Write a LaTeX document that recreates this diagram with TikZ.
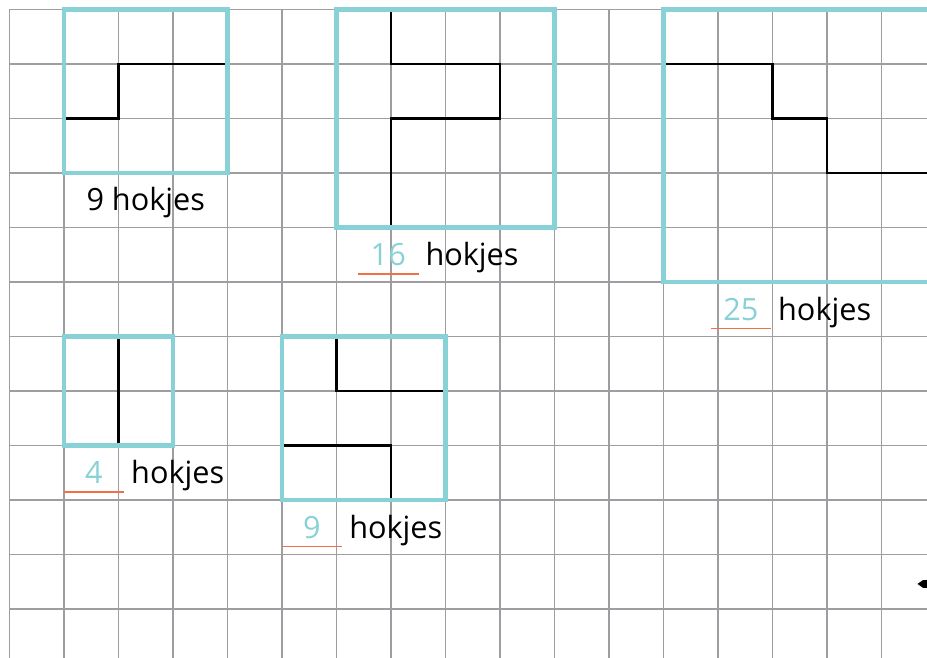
\documentclass[tikz,border=0pt]{standalone}
\usepackage{fontspec}
\setmainfont{Open Sans}
\usepackage{xcolor}
\usetikzlibrary{positioning}

\definecolor{frameteal}{RGB}{136,209,214}
\definecolor{gridgray}{RGB}{158,158,162}
\definecolor{lineorange}{RGB}{242,112,72}

\tikzset{
  gridline/.style={draw=gridgray, line width=0.75pt},
  frame/.style={draw=frameteal, line width=2.4pt},
  route/.style={draw=black, line width=1.4pt},
  answerline/.style={draw=lineorange, line width=0.8pt},
  countlabel/.style={inner sep=0pt, font=\fontsize{16}{19}\selectfont},
  blank/.style={
    text=frameteal,
    inner sep=0pt,
    minimum width=1.1cm,
    minimum height=0.7cm,
    font=\fontsize{16}{19}\selectfont
  }
}

\begin{document}
\begin{tikzpicture}[y=-1cm]
  \useasboundingbox (-0.174,-0.174) rectangle (16.835,11.881);
  \clip (-0.174,-0.174) rectangle (16.835,11.881);

  % ruitjespapier
  \draw[gridline] (0,0) grid (16.9,11.9);
  \draw[black, line width=0.6pt] (15,0.03) -- (16,0.03);

  % routes
  \draw[route] (1,2) -- (2,2) -- (2,1) -- (4,1);
  \draw[route] (7,0) -- (7,1) -- (9,1) -- (9,2) -- (7,2) -- (7,4);
  \draw[route] (12,1) -- (14,1) -- (14,2) -- (15,2) -- (15,3) -- (17,3);
  \draw[route] (2,6) -- (2,8);
  \draw[route] (6,6) -- (6,7) -- (8,7);
  \draw[route] (5,8) -- (7,8) -- (7,9);

  % vierkanten
  \draw[frame] (1,0) rectangle (4,3);
  \draw[frame] (6,0) rectangle (10,4);
  \draw[frame] (12,0) rectangle (17,5);
  \draw[frame] (1,6) rectangle (3,8);
  \draw[frame] (5,6) rectangle (8,9);

  % antwoorden
  \node[countlabel, anchor=base] (count9) at (2.5,3.68) {9 hokjes};

  \node[blank] (ans16) at (6.95,4.5) {16};
  \node[countlabel, anchor=base west] (unit16) at ([xshift=0.12cm]ans16.base east) {hokjes};
  \draw[answerline] (ans16.south west) -- (ans16.south east);

  \node[blank] (ans25) at (13.42,5.5) {25};
  \node[countlabel, anchor=base west] (unit25) at ([xshift=0.12cm]ans25.base east) {hokjes};
  \draw[answerline] (ans25.south west) -- (ans25.south east);

  \node[blank] (ans4) at (1.55,8.5) {4};
  \node[countlabel, anchor=base west] (unit4) at ([xshift=0.12cm]ans4.base east) {hokjes};
  \draw[answerline] (ans4.south west) -- (ans4.south east);

  \node[blank] (ans9) at (5.55,9.5) {9};
  \node[countlabel, anchor=base west] (unit9) at ([xshift=0.12cm]ans9.base east) {hokjes};
  \draw[answerline] (ans9.south west) -- (ans9.south east);

  % puntje rechtsonder
  \fill (16.66,10.54) -- (16.76,10.47) -- (16.84,10.47) -- (16.84,10.61) -- (16.76,10.61) -- cycle;
\end{tikzpicture}
\end{document}
